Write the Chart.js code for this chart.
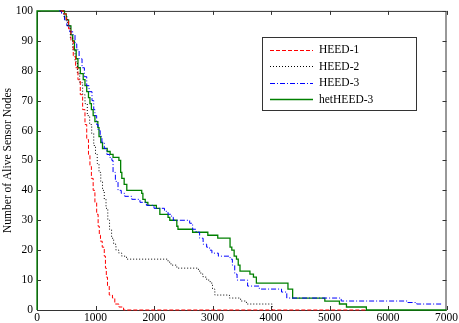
<!DOCTYPE html>
<html>
<head>
<meta charset="utf-8">
<script src="https://cdn.jsdelivr.net/npm/chart.js@4/dist/chart.umd.min.js"></script>
<style>
html,body{margin:0;padding:0;background:#fff;}
#wrap{width:459px;height:323px;position:relative;}
</style>
</head>
<body>
<div id="wrap"><canvas id="c" width="459" height="323"></canvas></div>
<script>
// ---- data (x = round, y = alive nodes; value takes effect at x) ----
const seriesNames = ["HEED-1", "HEED-2", "HEED-3", "hetHEED-3"];
const xTicks = [0, 1000, 2000, 3000, 4000, 5000, 6000, 7000];
const yTicks = [0, 10, 20, 30, 40, 50, 60, 70, 80, 90, 100];

const heed1 = [[400,100],[450,99],[500,97],[540,94],[580,90],[620,85],[660,81],[700,77],[740,72],[780,67],[820,62],[850,57],[880,52],[905,48],[930,44],[960,40],[990,36],[1020,32],[1045,28],[1065,25],[1085,23],[1115,21],[1150,18],[1170,14],[1185,11],[1205,8],[1235,5],[1290,4],[1330,2],[1400,1],[1480,0],[5630,0]];

const heed2 = [[400,100],[460,98],[520,95],[570,91],[610,87],[650,83],[690,79],[730,76],[780,72],[820,69],[860,65],[900,62],[935,59],[970,55],[1000,52],[1030,49],[1060,46],[1090,43],[1120,40],[1150,37],[1180,34],[1210,30],[1240,27],[1275,24],[1310,22],[1350,20],[1400,19],[1450,18],[1530,17],[2240,16],[2290,15],[2390,14],[2760,13],[2800,12],[2840,11],[2900,10],[2960,9],[3000,7],[3040,5],[3290,4],[3480,3],[3580,2],[4020,0],[4030,0]];

const heed3 = [[380,100],[420,99],[470,97],[510,95],[560,93],[615,92],[650,89],[680,87],[720,84],[770,81],[810,78],[850,75],[890,73],[940,70],[970,67],[990,65],[1020,62],[1045,60],[1080,58],[1110,56],[1150,54],[1195,52],[1240,51],[1280,50],[1300,46],[1340,43],[1385,40],[1440,39],[1500,38],[1620,37],[1760,36],[1870,35],[2000,34],[2180,33],[2240,32],[2300,31],[2330,30],[2610,29],[2660,27],[2720,26],[2780,24],[2840,22],[2900,21],[2950,20],[2990,19],[3100,18],[3300,17],[3340,15],[3380,12],[3420,10],[3600,8],[3800,7],[4180,6],[4270,4],[5200,3],[6330,2.5],[6490,2],[6910,2]];

const hetheed3 = [[0,0],[0,100],[440,100],[470,99],[500,97],[540,95],[580,92],[610,90],[640,87],[670,84],[700,81],[740,79],[790,77],[820,75],[850,73],[880,71],[905,69],[930,67],[960,65],[990,63],[1040,61],[1060,58],[1090,56],[1120,54],[1200,53],[1250,52],[1300,51],[1400,50],[1430,46],[1450,44],[1490,42],[1535,40],[1790,39],[1810,37],[1850,36],[1895,35],[2040,34],[2100,32],[2240,31],[2270,30],[2390,28],[2410,27],[2660,26],[2920,25],[3090,24],[3300,21],[3330,20],[3370,18],[3410,17],[3440,15],[3470,13],[3640,12],[3700,11],[3750,9],[4290,7],[4370,4],[4920,3],[5170,2],[5290,1],[5630,0],[7000,0]];

const colors = ["#ff0000", "#000000", "#0000ff", "#008000"];
const dashes = [[4,2], [1,2], [5,2,1,2], []];
const widths = [1, 1, 1, 1.3];

const toXY = arr => arr.map(p => ({x: p[0], y: p[1]}));
const allData = [heed1, heed2, heed3, hetheed3];

const FONT = "'Liberation Serif', 'Times New Roman', serif";
const AXC = "#333";

const boxPlugin = {
  id: 'boxPlugin',
  beforeDatasetsDraw(chart) {
    const {ctx, chartArea: a, scales} = chart;
    ctx.save();
    ctx.strokeStyle = AXC;
    ctx.lineWidth = 1;
    ctx.setLineDash([]);
    ctx.strokeRect(a.left + 0.5, a.top + 0.5, a.right - a.left - 1, a.bottom - a.top);
    const tl = 4;
    ctx.beginPath();
    xTicks.forEach(v => {
      const x = Math.round(scales.x.getPixelForValue(v)) + 0.5;
      ctx.moveTo(x, a.bottom); ctx.lineTo(x, a.bottom - tl);
      ctx.moveTo(x, a.top); ctx.lineTo(x, a.top + tl);
    });
    yTicks.forEach(v => {
      const y = Math.round(scales.y.getPixelForValue(v)) + 0.5;
      ctx.moveTo(a.left, y); ctx.lineTo(a.left + tl, y);
      ctx.moveTo(a.right, y); ctx.lineTo(a.right - tl, y);
    });
    ctx.stroke();
    ctx.restore();
  },
  afterDatasetsDraw(chart) {
    const {ctx} = chart;
    ctx.save();
    // legend box
    const lx = 262, ly = 37, lw = 154, lh = 73;
    ctx.fillStyle = "#fff";
    ctx.fillRect(lx, ly, lw, lh);
    ctx.strokeStyle = AXC;
    ctx.lineWidth = 1;
    ctx.strokeRect(lx + 0.5, ly + 0.5, lw, lh);
    const rows = [49.5, 66, 82.5, 99];
    ctx.font = "11.5px " + FONT;
    ctx.textBaseline = "middle";
    ctx.textAlign = "left";
    chart.data.datasets.forEach((ds, i) => {
      const y = Math.round(rows[i]) + 0.5;
      ctx.strokeStyle = ds.borderColor;
      ctx.lineWidth = ds.borderWidth;
      ctx.setLineDash(ds.borderDash);
      ctx.beginPath();
      ctx.moveTo(270, y); ctx.lineTo(313, y);
      ctx.stroke();
      ctx.setLineDash([]);
      ctx.fillStyle = "#000";
      ctx.fillText(ds.label, 319, rows[i] + 0.5);
    });
    ctx.restore();
  }
};

new Chart(document.getElementById('c'), {
  type: 'line',
  data: {
    datasets: allData.map((d, i) => ({
      label: seriesNames[i],
      data: toXY(d),
      borderColor: colors[i],
      backgroundColor: colors[i],
      borderWidth: widths[i],
      borderDash: dashes[i],
      pointRadius: 0,
      stepped: 'before',
      fill: false,
      clip: 2
    }))
  },
  options: {
    responsive: false,
    animation: false,
    layout: {padding: {left: 0, right: 12, top: 5, bottom: 0}},
    plugins: {legend: {display: false}, tooltip: {enabled: false}},
    scales: {
      x: {
        type: 'linear', min: 0, max: 7000,
        afterBuildTicks: s => { s.ticks = xTicks.map(v => ({value: v})); },
        afterFit: s => { s.height = 13; },
        grid: {display: true, drawOnChartArea: false, drawTicks: false},
        border: {display: false},
        ticks: {padding: 1, color: '#000', font: {family: FONT, size: 11.5}, maxRotation: 0, autoSkip: false, callback: v => String(v)}
      },
      y: {
        type: 'linear', min: 0, max: 100,
        afterBuildTicks: s => { s.ticks = yTicks.map(v => ({value: v})); },
        afterFit: s => { s.width = 37; },
        grid: {display: true, drawOnChartArea: false, drawTicks: false},
        border: {display: false},
        title: {display: true, text: 'Number of Alive Sensor Nodes', color: '#000', font: {family: FONT, size: 11.5}, padding: {top: 1, bottom: 0}},
        ticks: {padding: 4, color: '#000', font: {family: FONT, size: 11.5}, autoSkip: false, callback: v => String(v)}
      }
    }
  },
  plugins: [boxPlugin]
});
</script>
</body>
</html>
